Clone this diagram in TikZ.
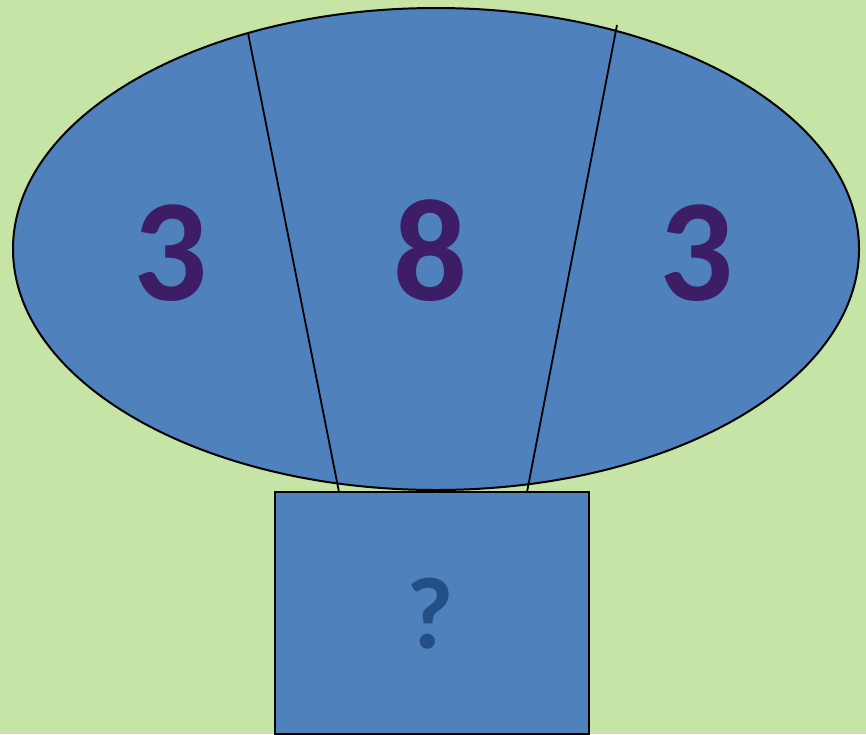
\documentclass[tikz,border=0pt]{standalone}
\usepackage{fontspec}
\setmainfont{Carlito}
\usetikzlibrary{shapes.geometric}
\definecolor{bg}{HTML}{C6E4A5}
\definecolor{shapefill}{HTML}{4F81BD}
\definecolor{digit}{HTML}{3D1D66}
\definecolor{qmark}{HTML}{244F86}
\tikzset{
  shapestyle/.style={draw=black, fill=shapefill, line width=2pt, inner sep=0pt},
  digitstyle/.style={text=digit, font=\fontsize{146}{146}\selectfont\bfseries, anchor=base, inner sep=0pt},
  divider/.style={draw=black, line width=1.8pt}
}
\begin{document}
\begin{tikzpicture}[x=1pt,y=-1pt]
\fill[bg] (0,0) rectangle (866,734);
\useasboundingbox (0,0) rectangle (866,734);
\node[shapestyle, ellipse, minimum width=846pt, minimum height=482pt] (oval) at (436,249) {};
\coordinate (l1) at (248,33);
\coordinate (l2) at (339,492);
\coordinate (r1) at (617,25);
\coordinate (r2) at (527,492);
\draw[divider] (l1) -- (l2);
\draw[divider] (r1) -- (r2);
\node[shapestyle, rectangle, minimum width=314pt, minimum height=242pt] (box) at (431.5,613) {};
\node[digitstyle] (d1) at (170,300) {3};
\node[digitstyle] (d2) at (430.5,300) {8};
\node[digitstyle] (d3) at (696,300) {3};
\node[text=qmark, font=\fontsize{102}{102}\selectfont\bfseries, anchor=base, inner sep=0pt] (q) at (430,648) {?};
\end{tikzpicture}
\end{document}
